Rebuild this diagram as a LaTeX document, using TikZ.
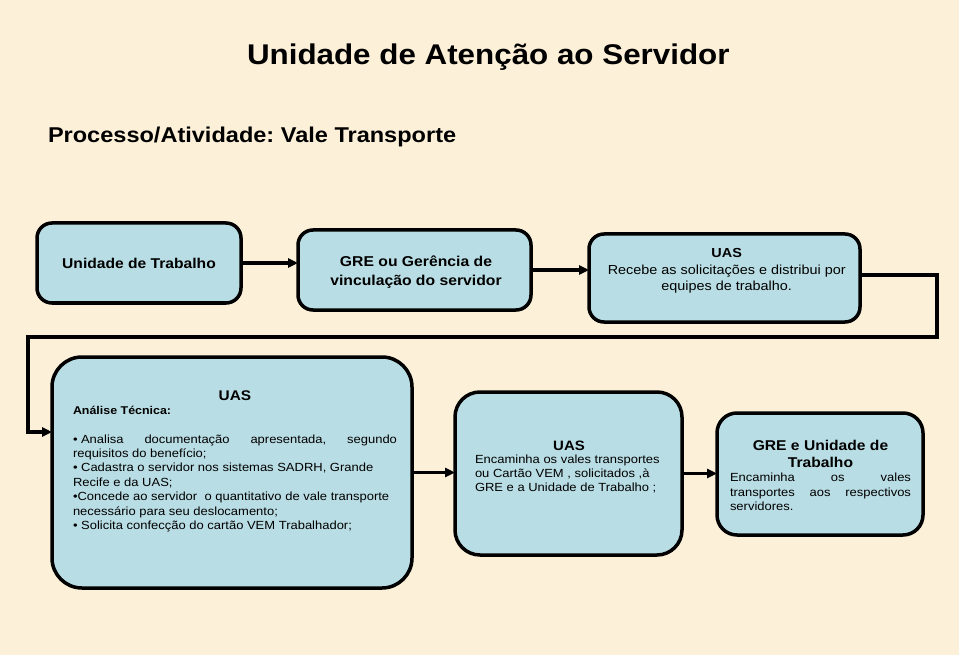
\documentclass[tikz,border=0pt]{standalone}
\usepackage{fontspec}
\setmainfont{Liberation Sans}[FakeStretch=1.1]
\usetikzlibrary{arrows.meta}
\frenchspacing
\definecolor{bgbeige}{RGB}{252,240,216}
\definecolor{boxblue}{RGB}{185,221,228}
\newcommand{\fullline}[2]{\makebox[#1][s]{\spaceskip=0pt\xspaceskip=0pt\relax #2}}
\tikzset{
  flowbox/.style={draw=black, line width=3.5pt, fill=boxblue, inner sep=0pt, outer sep=0pt},
  conn/.style={line width=3.5pt, -{Triangle[length=10pt,width=9pt]}},
  txt/.style={inner sep=0pt, outer sep=0pt, text=black},
}
\begin{document}
\begin{tikzpicture}[x=1pt,y=-1pt]
\fill[bgbeige] (0,0) rectangle (959,655);
\useasboundingbox (0,0) rectangle (959,655);

% titles
\node[txt, anchor=base west, font=\fontsize{28.5}{34}\selectfont\bfseries] (title) at (247,65) {Unidade de Atenção ao Servidor};
\node[txt, anchor=base west, font=\fontsize{21.4}{26}\selectfont\bfseries] (subtitle) at (48,142.3) {Processo/Atividade: Vale Transporte};

% boxes
\node[flowbox, rounded corners=15pt, minimum width=204pt, minimum height=80pt, font=\fontsize{14.2}{17}\selectfont\bfseries] (b1) at (139,263) {Unidade de Trabalho};
\node[flowbox, rounded corners=15pt, minimum width=233pt, minimum height=80pt] (b2) at (414.5,270) {};
\node[flowbox, rounded corners=15pt, minimum width=271pt, minimum height=88pt] (b3) at (724.5,278) {};
\node[flowbox, rounded corners=30pt, minimum width=360pt, minimum height=231pt] (b4) at (232,472.5) {};
\node[flowbox, rounded corners=25pt, minimum width=227pt, minimum height=163pt] (b5) at (568.5,473.5) {};
\node[flowbox, rounded corners=20pt, minimum width=206pt, minimum height=122pt] (b6) at (820,474) {};

% box texts
\node[txt, anchor=north, align=center, font=\fontsize{14.3}{18.3}\selectfont\bfseries] (t2) at (416,253.9) {\strut GRE ou Gerência de\\vinculação do servidor};

\node[txt, anchor=north, align=center, font=\fontsize{13.1}{16.3}\selectfont] (t3) at (726.7,246.3) {\strut\textbf{UAS}\\Recebe as solicitações e distribui por\\equipes de trabalho.};

\node[txt, anchor=base, font=\fontsize{14}{17}\selectfont\bfseries] (t4a) at (235,400) {UAS};
\node[txt, anchor=north west, align=left, font=\fontsize{11.8}{14.4}\selectfont] (t4b) at (73,404.3) {\strut{\fontsize{11.3}{14.4}\selectfont\bfseries Análise Técnica:}\\[14.4pt]
\fullline{324pt}{•\kern0.3em Analisa documentação apresentada, segundo}\\
requisitos do benefício;\\
•\ Cadastra o servidor nos sistemas SADRH, Grande\\
Recife e da UAS;\\
•Concede ao servidor\ \ o quantitativo de vale transporte\\
necessário para seu deslocamento;\\
•\ Solicita confecção do cartão VEM Trabalhador;};

\node[txt, anchor=base, font=\fontsize{13.6}{16}\selectfont\bfseries] (t5a) at (569,450) {UAS};
\node[txt, anchor=north west, align=left, font=\fontsize{11.8}{13.8}\selectfont] (t5b) at (475,454.3) {\strut Encaminha os vales transportes\\ou Cartão VEM , solicitados ,à\\GRE e a Unidade de Trabalho ;};

\node[txt, anchor=north, align=center, font=\fontsize{14.2}{17}\selectfont\bfseries] (t6a) at (820.5,438.1) {\strut GRE e Unidade de\\Trabalho};
\node[txt, anchor=north west, align=left, font=\fontsize{11.8}{14.5}\selectfont] (t6b) at (730,471.5) {\strut\fullline{181pt}{Encaminha os vales}\\\fullline{181pt}{transportes aos respectivos}\\servidores.};

% connectors
\coordinate (r1) at (937,275);
\coordinate (r2) at (937,337);
\coordinate (r3) at (28,337);
\coordinate (r4) at (28,432);
\draw[conn] (b1.east) -- (b1.east -| b2.west);
\draw[conn] (b2.east) -- (b2.east -| b3.west);
\draw[conn] (b3.east |- r1) -- (r1) -- (r2) -- (r3) -- (r4) -- (r4 -| b4.west);
\draw[conn] (b4.east) -- (b4.east -| b5.west);
\draw[conn] (b5.east) -- (b5.east -| b6.west);
\end{tikzpicture}
\end{document}
